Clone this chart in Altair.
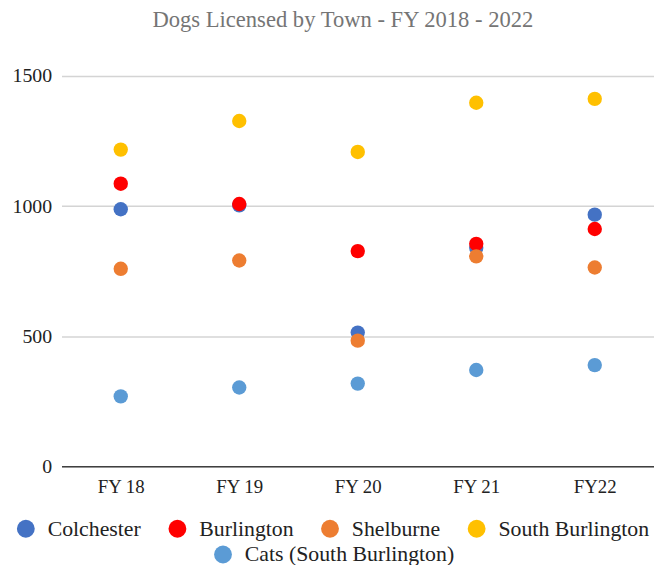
import altair as alt
import pandas as pd

years = ["FY 18", "FY 19", "FY 20", "FY 21", "FY22"]
towns = ["Colchester", "Burlington", "Shelburne", "South Burlington"]
cats_name = "Cats (South Burlington)"

colchester = [988, 1003, 514, 840, 967]
burlington = [1086, 1008, 827, 855, 912]
shelburne = [759, 791, 483, 807, 764]
south_burlington = [1217, 1327, 1208, 1397, 1412]
cats = [269, 303, 318, 370, 389]

town_colors = ["#4472C4", "#FF0000", "#ED7D31", "#FFC000"]
cat_color = ["#5B9BD5"]

rows = []
idx = 0
for name, vals in zip(towns, [colchester, burlington, shelburne, south_burlington]):
    for y, v in zip(years, vals):
        rows.append({"year": y, "value": v, "series": name, "idx": idx})
        idx += 1
town_df = pd.DataFrame(rows)
cat_df = pd.DataFrame({"year": years, "value": cats, "series": [cats_name] * len(years),
                       "idx": list(range(idx, idx + len(years)))})

FONT = "Liberation Serif"

x_enc = alt.X("year:N", sort=years, title=None,
              axis=alt.Axis(labelAngle=0, ticks=False, grid=False, domainColor="#404040",
                            domainWidth=1.5, labelFont=FONT, labelFontSize=19,
                            labelColor="#222222", labelPadding=11))
y_enc = alt.Y("value:Q", title=None, scale=alt.Scale(domain=[0, 1500], nice=False),
              axis=alt.Axis(values=[0, 500, 1000, 1500], format="d", ticks=False, domain=False,
                            gridColor="#d4d4d4", gridWidth=1.5, labelFont=FONT,
                            labelFontSize=20, labelColor="#222222", labelPadding=10))

def legend(x, y):
    return alt.Legend(orient="none", legendX=x, legendY=y, direction="horizontal", title=None,
                      symbolType="circle", symbolSize=324, symbolStrokeWidth=0,
                      labelFont=FONT, labelFontSize=22, labelColor="#222222",
                      labelOffset=11, columnPadding=25, labelLimit=400)

layer_towns = alt.Chart(town_df).mark_circle(size=210, opacity=1).encode(
    x=x_enc, y=y_enc,
    color=alt.Color("series:N", scale=alt.Scale(domain=towns, range=town_colors),
                    legend=legend(-47, 446)),
    order=alt.Order("idx:Q"),
)

layer_cats = alt.Chart(cat_df).mark_circle(size=210, opacity=1).encode(
    x=x_enc, y=y_enc,
    color=alt.Color("series:N", scale=alt.Scale(domain=[cats_name], range=cat_color),
                    legend=legend(152, 472)),
    order=alt.Order("idx:Q"),
)

chart = alt.layer(layer_towns, layer_cats).resolve_scale(color="independent").properties(
    width=598, height=394,
    title=alt.Title("Dogs Licensed by Town - FY 2018 - 2022", font=FONT, fontSize=22.8,
                    color="#757575", fontWeight="normal", anchor="middle", dx=-15,
                    offset=17, baseline="alphabetic"),
    padding={"left": 54, "top": 66, "right": 0, "bottom": 97},
    autosize="none",
).configure_view(stroke=None).configure_axis(labelFont=FONT)

chart.save("out.html", embed_options={"renderer": "svg", "actions": False})
